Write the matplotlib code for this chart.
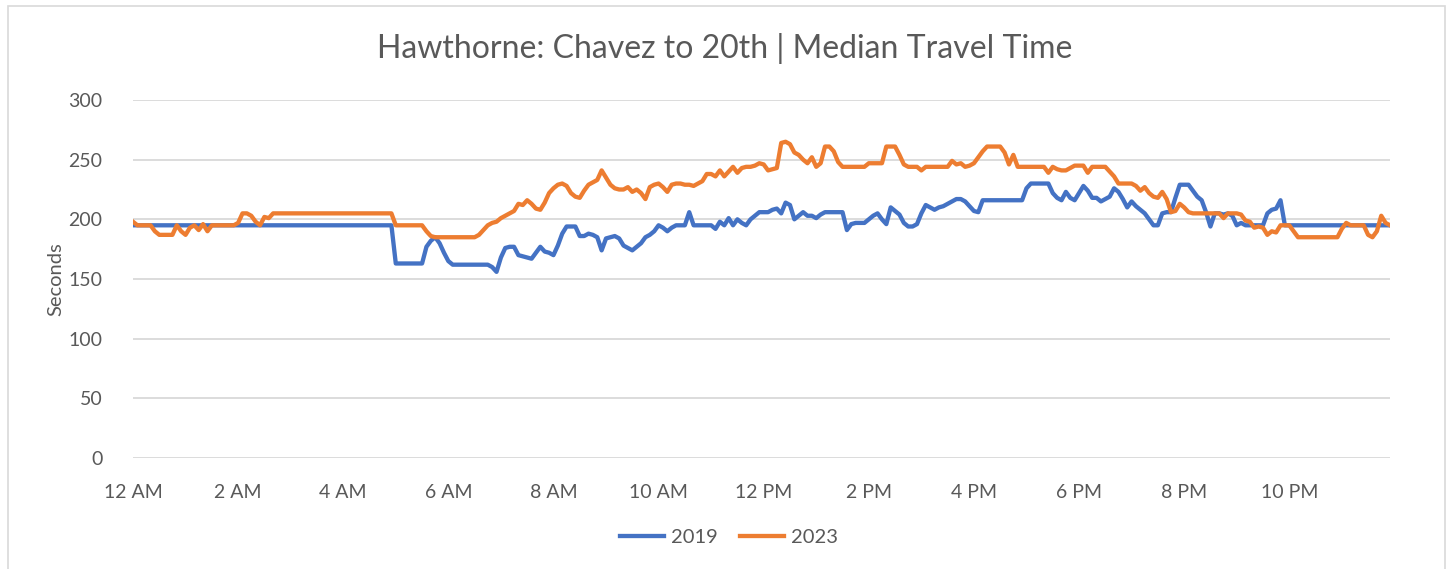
import numpy as np
import matplotlib.pyplot as plt
from matplotlib.patches import Rectangle

plt.rcParams['font.family'] = ['Lato', 'DejaVu Sans']

# 5-minute intervals, one row per hour
y2019 = [
    195, 195, 195, 195, 195, 195, 195, 195, 195, 195, 195, 195,
    195, 195, 195, 195, 195, 195, 195, 195, 195, 195, 195, 195,
    195, 195, 195, 195, 195, 195, 195, 195, 195, 195, 195, 195,
    195, 195, 195, 195, 195, 195, 195, 195, 195, 195, 195, 195,
    195, 195, 195, 195, 195, 195, 195, 195, 195, 195, 195, 195,
    163, 163, 163, 163, 163, 163, 163, 177, 182, 185, 180, 172,
    165, 162, 162, 162, 162, 162, 162, 162, 162, 162, 160, 156,
    168, 176, 177, 177, 170, 169, 168, 167, 172, 177, 173, 172,
    170, 178, 188, 194, 194, 194, 186, 186, 188, 187, 185, 174,
    184, 185, 186, 184, 178, 176, 174, 177, 180, 185, 187, 190,
    195, 193, 190, 193, 195, 195, 195, 206, 195, 195, 195, 195,
    195, 192, 198, 195, 201, 195, 200, 197, 195, 200, 203, 206,
    206, 206, 208, 209, 205, 214, 212, 200, 203, 206, 203, 203,
    201, 204, 206, 206, 206, 206, 206, 191, 196, 197, 197, 197,
    200, 203, 205, 200, 196, 210, 207, 204, 197, 194, 194, 196,
    205, 212, 210, 208, 210, 211, 213, 215, 217, 217, 215, 211,
    207, 206, 216, 216, 216, 216, 216, 216, 216, 216, 216, 216,
    226, 230, 230, 230, 230, 230, 222, 218, 216, 223, 218, 216,
    222, 228, 224, 218, 218, 215, 217, 219, 226, 223, 217, 210,
    215, 211, 208, 205, 200, 195, 195, 205, 206, 206, 218, 229,
    229, 229, 224, 219, 216, 206, 194, 205, 205, 204, 205, 203,
    195, 197, 195, 195, 195, 195, 195, 205, 208, 209, 216, 195,
    195, 195, 195, 195, 195, 195, 195, 195, 195, 195, 195, 195,
    195, 195, 195, 195, 195, 195, 195, 195, 195, 195, 195, 195,
]
y2023 = [
    198, 195, 195, 195, 195, 190, 187, 187, 187, 187, 195, 190,
    187, 193, 195, 191, 196, 190, 195, 195, 195, 195, 195, 195,
    197, 205, 205, 203, 198, 195, 202, 201, 205, 205, 205, 205,
    205, 205, 205, 205, 205, 205, 205, 205, 205, 205, 205, 205,
    205, 205, 205, 205, 205, 205, 205, 205, 205, 205, 205, 205,
    195, 195, 195, 195, 195, 195, 195, 190, 186, 185, 185, 185,
    185, 185, 185, 185, 185, 185, 185, 187, 191, 195, 197, 198,
    201, 203, 205, 207, 213, 212, 216, 213, 209, 208, 214, 222,
    226, 229, 230, 228, 222, 219, 218, 224, 229, 231, 233, 241,
    235, 229, 226, 225, 225, 227, 223, 225, 222, 217, 227, 229,
    230, 227, 223, 229, 230, 230, 229, 229, 228, 230, 232, 238,
    238, 236, 241, 236, 240, 244, 239, 243, 244, 244, 245, 247,
    246, 241, 242, 243, 264, 265, 263, 256, 254, 250, 247, 252,
    244, 247, 261, 261, 257, 248, 244, 244, 244, 244, 244, 244,
    247, 247, 247, 247, 261, 261, 261, 254, 246, 244, 244, 244,
    241, 244, 244, 244, 244, 244, 244, 249, 246, 247, 244, 245,
    247, 252, 257, 261, 261, 261, 261, 256, 246, 254, 244, 244,
    244, 244, 244, 244, 244, 239, 244, 242, 241, 241, 243, 245,
    245, 245, 239, 244, 244, 244, 244, 240, 236, 230, 230, 230,
    230, 228, 224, 227, 222, 219, 218, 223, 217, 206, 207, 213,
    210, 206, 205, 205, 205, 205, 205, 205, 205, 201, 205, 205,
    205, 204, 199, 198, 193, 194, 193, 187, 190, 189, 195, 195,
    195, 190, 185, 185, 185, 185, 185, 185, 185, 185, 185, 185,
    192, 197, 195, 195, 195, 195, 187, 185, 190, 203, 197, 195,
]
hour_labels = ['12 AM', '2 AM', '4 AM', '6 AM', '8 AM', '10 AM',
               '12 PM', '2 PM', '4 PM', '6 PM', '8 PM', '10 PM']

txt = '#595959'
grid = '#d9d9d9'

fig = plt.figure(figsize=(14.49, 5.69), dpi=100)
fig.patches.append(Rectangle((8 / 1449, -0.1), 1437 / 1449, 1.1 - 6 / 569,
                             transform=fig.transFigure, fill=False,
                             edgecolor=grid, linewidth=1.2))

ax = fig.add_axes([133 / 1449, 1 - 458 / 569, 1257 / 1449, 358 / 569])
x = np.arange(len(y2019))
ax.plot(x, y2019, color='#4472C4', lw=3.1, label='2019', solid_joinstyle='round')
ax.plot(x, y2023, color='#ED7D31', lw=3.1, label='2023', solid_joinstyle='round')

ax.set_xlim(0, len(x) - 1)
ax.set_ylim(0, 300)
ax.set_yticks(range(0, 301, 50))
ax.set_xticks(range(0, 288, 24))
ax.set_xticklabels(hour_labels)
ax.grid(axis='y', color=grid, lw=1.3)
ax.set_axisbelow(True)
for s in ax.spines.values():
    s.set_visible(False)
ax.tick_params(length=0, labelsize=14, colors=txt)
ax.tick_params(axis='y', pad=22)
ax.tick_params(axis='x', pad=19)
ax.set_ylabel('Seconds', fontsize=14.5, color=txt, labelpad=3)

fig.text(0.5, 1 - 48 / 569, 'Hawthorne: Chavez to 20th | Median Travel Time',
         ha='center', va='center', fontsize=23, color=txt)

fig.legend(loc='center', bbox_to_anchor=(729 / 1449, 1 - 537 / 569), ncol=2,
           frameon=False, fontsize=14.5, labelcolor=txt, handlelength=2.2,
           handletextpad=0.35, columnspacing=1.1)

fig.savefig('out.png', dpi=100)
